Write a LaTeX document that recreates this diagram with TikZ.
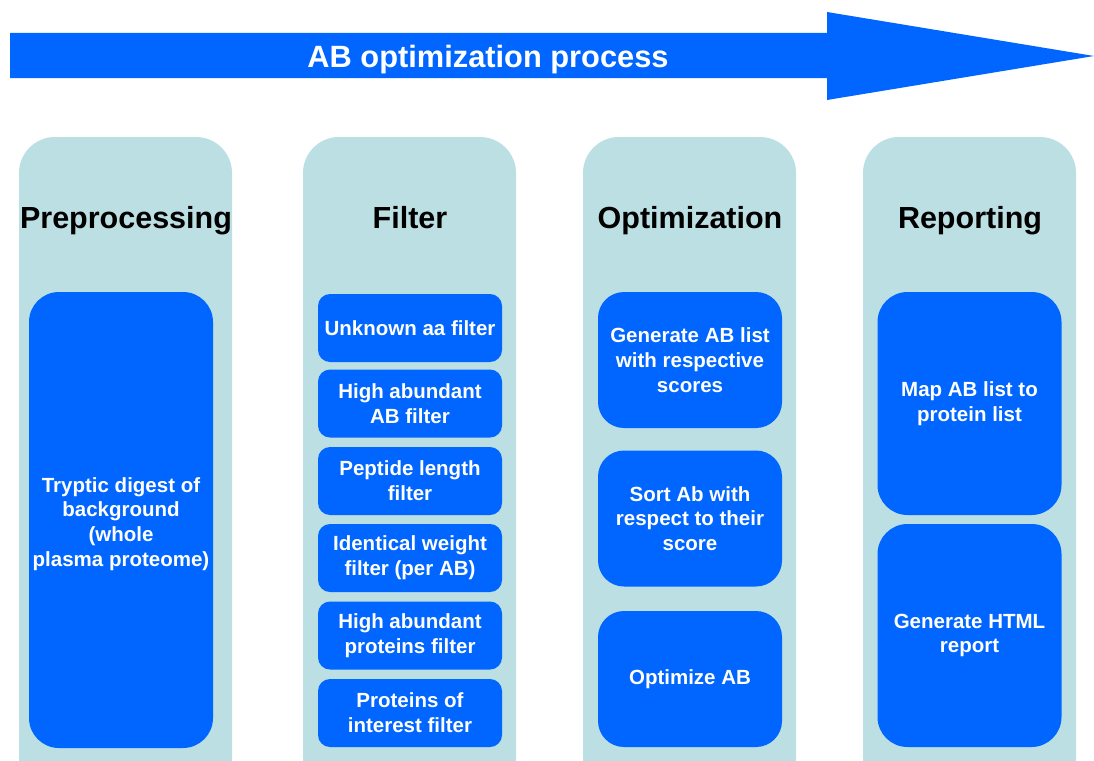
\documentclass[tikz,border=0pt]{standalone}
\usepackage{fontspec}
\setmainfont{Liberation Sans}
\definecolor{procblue}{HTML}{0066FF}
\definecolor{lanecyan}{HTML}{BBDFE3}
\begin{document}
\begin{tikzpicture}[x=1pt,y=-1pt,
  lane/.style={fill=lanecyan, draw=none, rounded corners=36pt, inner sep=0pt,
    minimum width=213pt, minimum height=680pt},
  lanetitle/.style={font=\fontsize{30.5}{34}\selectfont\bfseries, text=black, inner sep=0pt, anchor=base},
  steptext/.style={text=white, align=center, inner sep=0pt,
    font=\fontsize{20.5}{24.7}\selectfont\bfseries},
  stepbox/.style={steptext, fill=procblue, draw=none, minimum width=184pt},
  smallbox/.style={stepbox, rounded corners=12pt, minimum height=68pt},
  midbox/.style={stepbox, rounded corners=26pt, minimum height=136pt},
  bigbox/.style={stepbox, rounded corners=30pt, minimum height=223pt}]
\useasboundingbox (0,0) rectangle (1094,760);
\clip (0,0) rectangle (1094,760);

% process arrow
\fill[procblue] (10,33) -- (827,33) -- (827,12) -- (1094,56) -- (827,100) -- (827,78) -- (10,78) -- cycle;
\node[text=white, font=\fontsize{30.8}{34}\selectfont\bfseries, inner sep=0pt, anchor=base] (proc) at (488,67) {AB optimization process};

% lanes
\node[lane] (lane1) at (125.5,477) {};
\node[lane] (lane2) at (409.5,477) {};
\node[lane] (lane3) at (689.5,477) {};
\node[lane] (lane4) at (969.5,477) {};

\node[lanetitle] (t1) at (126,228) {Preprocessing};
\node[lanetitle] (t2) at (410,228) {Filter};
\node[lanetitle] (t3) at (690,228) {Optimization};
\node[lanetitle] (t4) at (970,228) {Reporting};

% preprocessing
\node[stepbox, rounded corners=30pt, minimum height=456pt,
  label={[steptext, yshift=-4pt]center:{Tryptic digest of\\background\\(whole\\plasma proteome)}}]
  (pre) at (121,520) {};

% filters
\node[smallbox] (f1) at (410,328) {Unknown aa filter};
\node[smallbox] (f2) at (410,403.5) {High abundant\\AB filter};
\node[smallbox] (f3) at (410,481) {Peptide length\\filter};
\node[smallbox] (f4) at (410,558) {Identical weight\\filter (per AB)};
\node[smallbox] (f5) at (410,635.5) {High abundant\\proteins filter};
\node[smallbox] (f6) at (410,713) {Proteins of\\interest filter};

% optimization
\node[midbox] (o1) at (690,360) {Generate AB list\\with respective\\scores};
\node[midbox] (o2) at (690,518.5) {Sort Ab with\\respect to their\\score};
\node[midbox] (o3) at (690,679) {Optimize AB};

% reporting
\node[bigbox] (r1) at (969.5,403.5) {Map AB list to\\protein list};
\node[bigbox] (r2) at (969.5,635.5) {Generate HTML\\report};
\end{tikzpicture}
\end{document}
